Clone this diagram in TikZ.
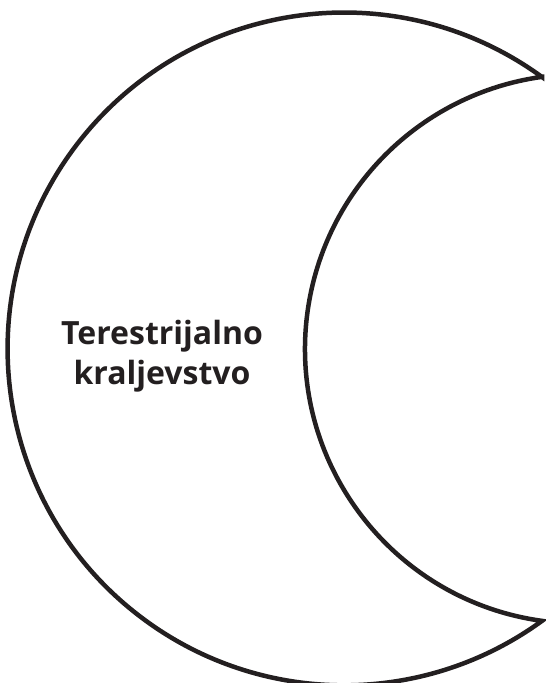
\documentclass[tikz,border=0pt]{standalone}
\usepackage{fontspec}
\setmainfont{Open Sans}
\usetikzlibrary{positioning}
\definecolor{ink}{HTML}{231F20}

\begin{document}
\begin{tikzpicture}[x=1pt,y=1pt]
  \useasboundingbox (0,0) rectangle (546,683);

  % Tips of the crescent
  \coordinate (tiptop) at (542,606);
  \coordinate (tipbot) at (542,62);

  % Crescent: outer arc, then inner arc back
  \draw[ink,line width=4.5pt,line join=miter,fill=white]
    (tiptop) arc[start angle=53.94,end angle=306.06,radius=336.4]
    arc[start angle=262.13,end angle=97.87,radius=274.6] -- cycle;

  % Label
  \node[ink,align=center,font=\bfseries\fontsize{32}{40}\selectfont] (kralj) at (162,327)
    {Terestrijalno\\kraljevstvo};
\end{tikzpicture}
\end{document}
